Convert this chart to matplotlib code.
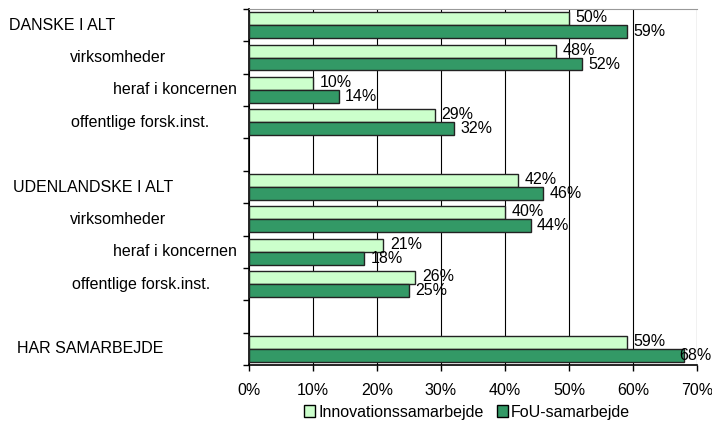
import matplotlib.pyplot as plt
import matplotlib.transforms as mtransforms
import numpy as np

plt.rcParams['font.family'] = ['Liberation Sans', 'DejaVu Sans']

# categories top to bottom, None = empty slot
categories = ['DANSKE I ALT', 'virksomheder', 'heraf i koncernen', 'offentlige forsk.inst.', None,
              'UDENLANDSKE I ALT', 'virksomheder', 'heraf i koncernen', 'offentlige forsk.inst.', None,
              'HAR SAMARBEJDE']
label_x = [9, 70, 113, 71, None, 13, 70, 113, 72, None, 17]  # left edge of each label, pixels
innovation = [50, 48, 10, 29, None, 42, 40, 21, 26, None, 59]
fou = [59, 52, 14, 32, None, 46, 44, 18, 25, None, 68]
xticks = [0, 10, 20, 30, 40, 50, 60, 70]

light = '#CCFFCC'
dark = '#339966'
fs = 11.5

fig = plt.figure(figsize=(7.12, 4.21), dpi=100)
ax = fig.add_axes([249 / 712, 1 - 365 / 421, 448 / 712, 356 / 421])

y = np.arange(len(categories))
h = 0.4
for i in range(len(categories)):
    if innovation[i] is None:
        continue
    ax.barh(y[i] - h / 2, innovation[i], h, color=light, edgecolor='#222222', linewidth=1, zorder=3)
    ax.barh(y[i] + h / 2, fou[i], h, color=dark, edgecolor='#222222', linewidth=1, zorder=3)
    ax.text(innovation[i] + 1.0, y[i] - h / 2 - 0.03, f'{innovation[i]}%', va='center', ha='left', fontsize=fs, zorder=4)
    # the last label has no room, so it sits over the bar end like in the original
    off = 1.0 if fou[i] < 65 else -0.8
    ax.text(fou[i] + off, y[i] + h / 2, f'{fou[i]}%', va='center', ha='left', fontsize=fs, zorder=4, clip_on=False)

ax.set_xlim(0, 70)
ax.set_ylim(len(categories) - 0.5, -0.5)
ax.set_xticks(xticks)
ax.set_xticklabels([f'{v}%' for v in xticks], fontsize=fs)
ax.set_yticks(np.arange(-0.5, len(categories), 1))
ax.set_yticklabels([])
ax.tick_params(axis='both', direction='out', length=4, width=1, color='black')
ax.tick_params(axis='x', pad=9)
ax.grid(axis='x', color='black', linewidth=0.8, zorder=0)
ax.spines['top'].set_color('#999999')
ax.spines['right'].set_visible(False)
for s in ['left', 'bottom']:
    ax.spines[s].set_linewidth(1.2)

trans = mtransforms.blended_transform_factory(fig.dpi_scale_trans, ax.transData)
for i, lab in enumerate(categories):
    if lab is None:
        continue
    ax.text(label_x[i] / 100, y[i], lab, transform=trans, ha='left', va='center', fontsize=fs, clip_on=False)

handles = [plt.Rectangle((0, 0), 1, 1, facecolor=light, edgecolor='black'),
           plt.Rectangle((0, 0), 1, 1, facecolor=dark, edgecolor='black')]
fig.legend(handles, ['Innovationssamarbejde', 'FoU-samarbejde'], loc='center', bbox_to_anchor=(467 / 712, 1 - 412 / 421),
           ncol=2, frameon=False, fontsize=fs, handlelength=0.7, handleheight=0.7, handletextpad=0.2, columnspacing=0.8)

fig.savefig('out.png', dpi=100)
